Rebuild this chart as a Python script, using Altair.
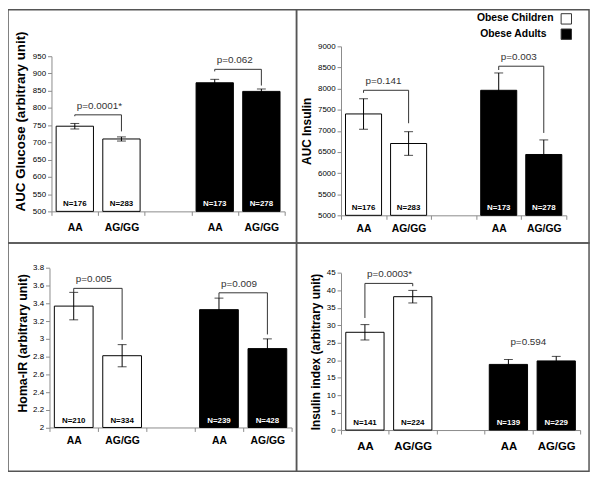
import altair as alt
import pandas as pd

FONT = "Liberation Sans"

# ---------------- data ----------------
CATEGORY_KEYS = ["c_AA", "c_AG", "gap", "a_AA", "a_AG"]
CATEGORY_LABELS = ["AA", "AG/GG", "", "AA", "AG/GG"]
BAR_KEYS = ["c_AA", "c_AG", "a_AA", "a_AG"]
BAR_GROUPS = ["Obese Children", "Obese Children", "Obese Adults", "Obese Adults"]
GROUP_NAMES = ["Obese Children", "Obese Adults"]
GROUP_FILLS = ["#ffffff", "#000000"]
N_TEXT_COLORS = ["#000000", "#ffffff"]
PAIR_LEFT = ["c_AA", "a_AA"]
PAIR_RIGHT = ["c_AG", "a_AG"]

# Panel A - AUC Glucose
GLU_TITLE = "AUC Glucose (arbitrary unit)"
GLU_MEAN = [747, 710, 873, 848]
GLU_SEM = [8, 6, 10, 7]
GLU_N = [176, 283, 173, 278]
GLU_TICKS = [500, 550, 600, 650, 700, 750, 800, 850, 900, 950]
GLU_P_TEXT = ["p=0.0001*", "p=0.062"]
GLU_P_LEVEL = [780, 912]
GLU_P_LEFT_END = [776, 906]
GLU_P_RIGHT_END = [732, 865]
GLU_P_BRACKET = [True, True]

# Panel B - AUC Insulin
INS_TITLE = "AUC Insulin"
INS_MEAN = [7400, 6700, 7960, 6440]
INS_SEM = [360, 280, 410, 345]
INS_N = [176, 283, 173, 278]
INS_TICKS = [5000, 5500, 6000, 6500, 7000, 7500, 8000, 8500, 9000]
INS_P_TEXT = ["p=0.141", "p=0.003"]
INS_P_LEVEL = [7960, 8530]
INS_P_LEFT_END = [7900, 8440]
INS_P_RIGHT_END = [7180, 6950]
INS_P_BRACKET = [True, True]

# Panel C - HOMA-IR
HOMA_TITLE = "Homa-IR (arbitrary unit)"
HOMA_MEAN = [3.37, 2.81, 3.33, 2.89]
HOMA_SEM = [0.155, 0.125, 0.13, 0.11]
HOMA_N = [210, 334, 239, 428]
HOMA_TICKS = [2, 2.2, 2.4, 2.6, 2.8, 3, 3.2, 3.4, 3.6, 3.8]
HOMA_P_TEXT = ["p=0.005", "p=0.009"]
HOMA_P_LEVEL = [3.57, 3.52]
HOMA_P_LEFT_END = [3.52, 3.46]
HOMA_P_RIGHT_END = [2.99, 3.05]
HOMA_P_BRACKET = [True, True]

# Panel D - Insulin index
IDX_TITLE = "Insulin index (arbitrary unit)"
IDX_MEAN = [28.0, 38.2, 18.8, 19.8]
IDX_SEM = [2.2, 1.8, 1.4, 1.3]
IDX_N = [141, 224, 139, 229]
IDX_TICKS = [0, 5, 10, 15, 20, 25, 30, 35, 40, 45]
IDX_P_TEXT = ["p=0.0003*", "p=0.594"]
IDX_P_LEVEL = [42, 22.7]
IDX_P_LEFT_END = [32.1, 22.7]
IDX_P_RIGHT_END = [41.2, 22.7]
IDX_P_BRACKET = [True, False]

# ---------------- layout (pixels, local to each framed cell) ----------------
LAYOUT = {
    "A": dict(w=292, h=236, xr=[44, 280], yr=[204, 47], yoff=-44, title_size=13.5,
              title_y=112.5, xlab=10.5, xpad=7, fmt="d", title_pad=5),
    "B": dict(w=296, h=236, xr=[45, 273], yr=[208, 37], yoff=-45, title_size=12,
              title_y=None, xlab=10.5, xpad=4, fmt="d", title_pad=4),
    "C": dict(w=292, h=231, xr=[42, 287], yr=[186.7, 25.3], yoff=-42, title_size=12.5,
              title_y=101, xlab=10.5, xpad=4, fmt="~g", title_pad=3),
    "D": dict(w=296, h=231, xr=[45, 287], yr=[189.3, 30.3], yoff=-45, title_size=12,
              title_y=None, xlab=11.5, xpad=7, fmt="d", title_pad=4),
}

LEGEND_TEXT_X = [260, 253]
LEGEND_Y = [8.7, 24.2]
LEGEND_BOX_X = 273

label_expr = ""
for k, lab in zip(CATEGORY_KEYS, CATEGORY_LABELS):
    label_expr += f"datum.value == '{k}' ? '{lab}' : "
label_expr += "''"

LINE = "#333333"
AXIS_GRAY = "#8a8a8a"


def make_panel(key, title, mean, sem, n, ticks, p_text, p_level, p_left_end, p_right_end, p_bracket, legend=False):
    lay = LAYOUT[key]
    lo, hi = ticks[0], ticks[-1]
    bars = pd.DataFrame({
        "key": BAR_KEYS,
        "group": BAR_GROUPS,
        "mean": mean,
        "low": [m - s for m, s in zip(mean, sem)],
        "high": [m + s for m, s in zip(mean, sem)],
        "ntext": [f"N={v}" for v in n],
        "base": [lo] * len(BAR_KEYS),
    })
    pv = pd.DataFrame({
        "left": PAIR_LEFT, "right": PAIR_RIGHT, "text": p_text, "level": p_level,
        "left_end": p_left_end, "right_end": p_right_end, "bracket": p_bracket,
    })
    br = pv[pv["bracket"]]

    x_scale = alt.Scale(domain=CATEGORY_KEYS, range=lay["xr"], paddingInner=0, paddingOuter=0)
    y_scale = alt.Scale(domain=[lo, hi], range=lay["yr"], nice=False, zero=False)
    x_axis = alt.Axis(
        title=None, labelExpr=label_expr, tickBand="extent", labelAngle=0,
        domainColor=AXIS_GRAY, tickColor=AXIS_GRAY, tickSize=4, labelPadding=lay["xpad"],
        labelFont=FONT, labelFontSize=lay["xlab"], labelFontWeight="bold", labelColor="#000",
        offset=-(lay["h"] - lay["yr"][0]),
    )
    yax = dict(
        title=title, values=ticks, format=lay["fmt"], grid=False,
        domainColor=AXIS_GRAY, tickColor=AXIS_GRAY, tickSize=4, labelPadding=2,
        labelFont=FONT, labelFontSize=8, labelColor="#000",
        titleFont=FONT, titleFontSize=lay["title_size"], titleFontWeight="bold", titleColor="#000",
        titlePadding=lay["title_pad"], offset=lay["yoff"],
    )
    if lay["title_y"] is not None:
        yax["titleY"] = lay["title_y"]
    y_axis = alt.Axis(**yax)

    def X(field):
        return alt.X(field, type="nominal", scale=x_scale, axis=x_axis)

    def Y(field):
        return alt.Y(field, type="quantitative", scale=y_scale, axis=y_axis)

    bar_layer = alt.Chart(bars).mark_bar(width=alt.RelativeBandSize(0.8), stroke="#000", strokeWidth=1).encode(
        x=X("key"), y=Y("mean"), y2="base:Q",
        fill=alt.Fill("group:N", scale=alt.Scale(domain=GROUP_NAMES, range=GROUP_FILLS), legend=None),
    )
    err = alt.Chart(bars).mark_rule(color="#000", strokeWidth=1).encode(x=X("key"), y=Y("low"), y2="high:Q")
    cap_hi = alt.Chart(bars).mark_tick(color="#000", size=9, thickness=1).encode(x=X("key"), y=Y("high"))
    cap_lo = alt.Chart(bars).mark_tick(color="#000", size=9, thickness=1).encode(x=X("key"), y=Y("low"))
    ntext = alt.Chart(bars).mark_text(baseline="bottom", dy=-3, font=FONT, fontSize=8, fontWeight="bold").encode(
        x=X("key"), y=Y("base"), text="ntext:N",
        color=alt.Color("group:N", scale=alt.Scale(domain=GROUP_NAMES, range=N_TEXT_COLORS), legend=None),
    )
    horiz = alt.Chart(br).mark_rule(color=LINE, strokeWidth=1).encode(x=X("left"), x2="right:N", y=Y("level"))
    vleft = alt.Chart(br).mark_rule(color=LINE, strokeWidth=1).encode(x=X("left"), y=Y("level"), y2="left_end:Q")
    vright = alt.Chart(br).mark_rule(color=LINE, strokeWidth=1).encode(x=X("right"), y=Y("level"), y2="right_end:Q")
    ptext = alt.Chart(pv).mark_text(align="left", baseline="bottom", dx=2, dy=-4, font=FONT, fontSize=10,
                                    color=LINE).encode(x=X("left"), y=Y("level"), text="text:N")
    layers = [bar_layer, err, cap_hi, cap_lo, ntext, horiz, vleft, vright, ptext]

    if legend:
        for i, (name, fill) in enumerate(zip(GROUP_NAMES, GROUP_FILLS)):
            ldf = pd.DataFrame({"label": [name], "fill": [fill]})
            layers.append(alt.Chart(ldf).mark_text(align="right", baseline="middle", font=FONT, fontSize=10.5,
                                                   fontWeight="bold", color="#000").encode(
                x=alt.value(LEGEND_TEXT_X[i]), y=alt.value(LEGEND_Y[i]), text="label:N"))
            layers.append(alt.Chart(ldf).mark_square(size=110, filled=True, stroke="#333", strokeWidth=1,
                                                     fill=fill, opacity=1).encode(
                x=alt.value(LEGEND_BOX_X), y=alt.value(LEGEND_Y[i] + 0.5)))

    return alt.layer(*layers).properties(width=lay["w"], height=lay["h"])


pA = make_panel("A", GLU_TITLE, GLU_MEAN, GLU_SEM, GLU_N, GLU_TICKS, GLU_P_TEXT, GLU_P_LEVEL,
                GLU_P_LEFT_END, GLU_P_RIGHT_END, GLU_P_BRACKET)
pB = make_panel("B", INS_TITLE, INS_MEAN, INS_SEM, INS_N, INS_TICKS, INS_P_TEXT, INS_P_LEVEL,
                INS_P_LEFT_END, INS_P_RIGHT_END, INS_P_BRACKET, legend=True)
pC = make_panel("C", HOMA_TITLE, HOMA_MEAN, HOMA_SEM, HOMA_N, HOMA_TICKS, HOMA_P_TEXT, HOMA_P_LEVEL,
                HOMA_P_LEFT_END, HOMA_P_RIGHT_END, HOMA_P_BRACKET)
pD = make_panel("D", IDX_TITLE, IDX_MEAN, IDX_SEM, IDX_N, IDX_TICKS, IDX_P_TEXT, IDX_P_LEVEL,
                IDX_P_LEFT_END, IDX_P_RIGHT_END, IDX_P_BRACKET)

chart = alt.concat(pA, pB, pC, pD, columns=2, spacing=0, bounds="flush").properties(
    padding={"left": -1, "top": -2, "right": 2, "bottom": 2}, background="white"
).configure_view(stroke="#555555", strokeWidth=1.5)

chart.save("out.html", embed_options={"renderer": "svg", "actions": False})
